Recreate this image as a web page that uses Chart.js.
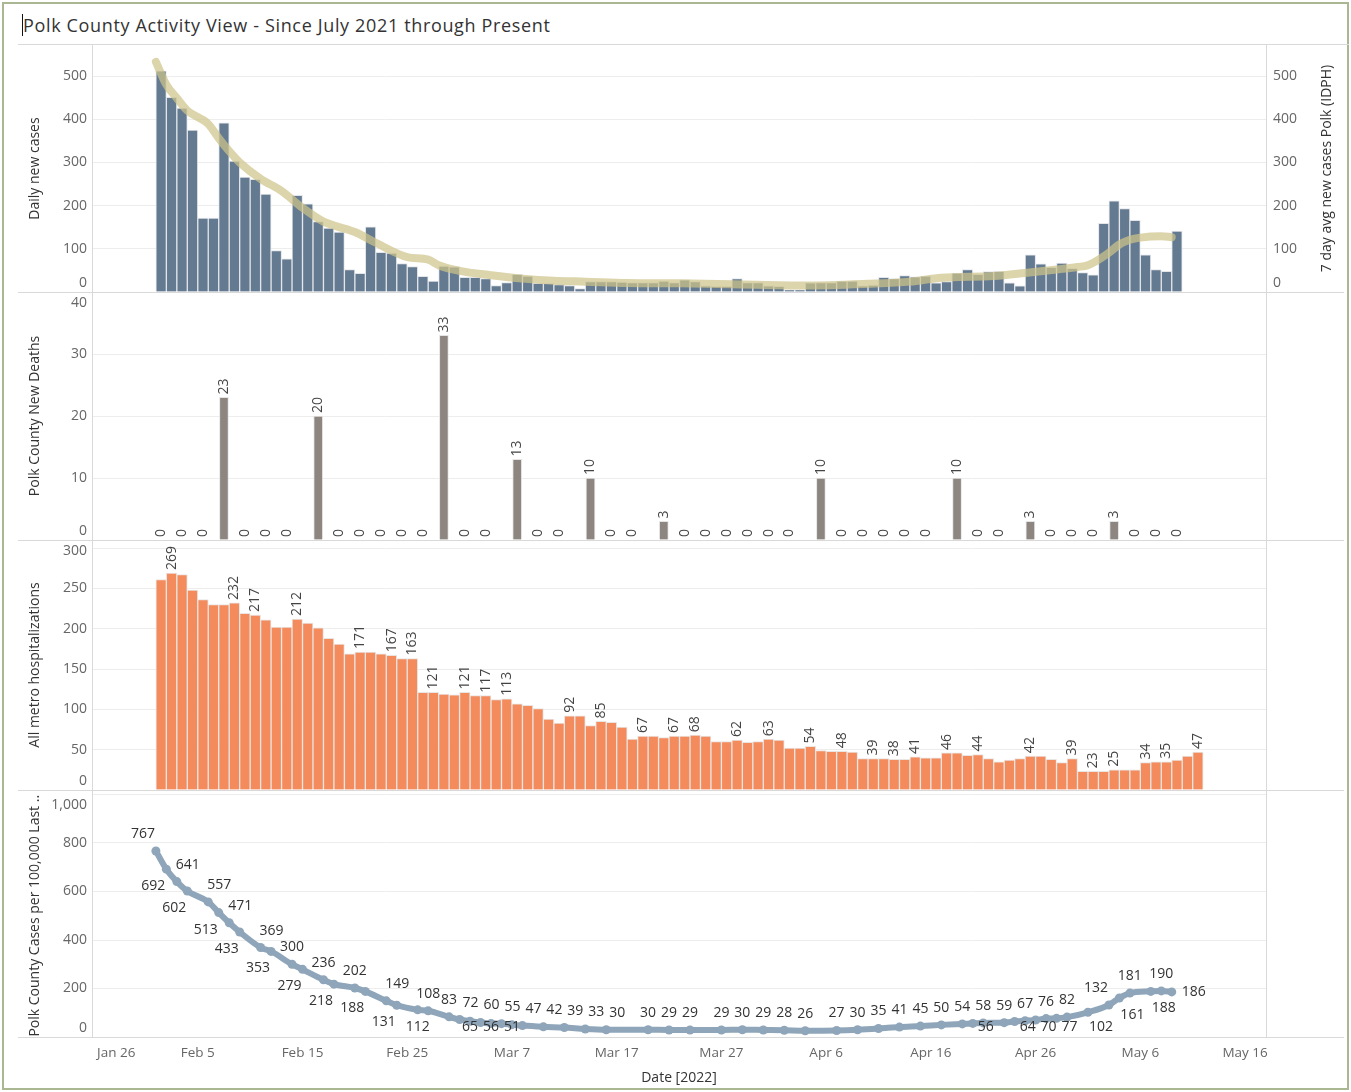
<!DOCTYPE html>
<html>
<head>
<meta charset="utf-8">
<title>Polk County Activity View</title>
<script src="https://cdn.jsdelivr.net/npm/chart.js@4.4.1/dist/chart.umd.min.js"></script>
<style>
html,body{margin:0;padding:0;background:#fff;}
#wrap{position:relative;width:1351px;height:1092px;overflow:hidden;font-family:'Open Sans','Noto Sans',sans-serif;}
.ln{position:absolute;background:#d9d9d9;}
canvas{position:absolute;left:0;}
#title{position:absolute;left:23px;top:13px;font-size:18px;line-height:24px;letter-spacing:0.65px;color:#333;white-space:nowrap;}
</style>
</head>
<body>
<div id="wrap">
  <div style="position:absolute;left:2px;top:2px;width:1343px;height:1084px;border:2px solid #a9b892;"></div>
  <div style="position:absolute;left:22px;top:14px;width:1px;height:22px;background:#111;"></div>
  <div id="title">Polk County Activity View - Since July 2021 through Present</div>
  <div class="ln" style="left:18px;top:44px;width:1331px;height:1px;"></div>
  <canvas id="c1" width="1351" height="247" style="top:45px"></canvas>
  <canvas id="c2" width="1351" height="248" style="top:292px"></canvas>
  <canvas id="c3" width="1351" height="250" style="top:540px"></canvas>
  <canvas id="c4" width="1351" height="302" style="top:790px"></canvas>
  <div class="ln" style="left:92px;top:45px;width:1px;height:992px;"></div>
  <div class="ln" style="left:1266px;top:45px;width:1px;height:992px;"></div>
  <div class="ln" style="left:18px;top:292px;width:1326px;height:1px;"></div>
  <div class="ln" style="left:18px;top:540px;width:1326px;height:1px;"></div>
  <div class="ln" style="left:18px;top:790px;width:1326px;height:1px;"></div>
  <div class="ln" style="left:18px;top:1037px;width:1326px;height:1px;"></div>
</div>
<script>
// ---------------- DATA ----------------
const xTickLabels = ['Jan 26','Feb 5','Feb 15','Feb 25','Mar 7','Mar 17','Mar 27','Apr 6','Apr 16','Apr 26','May 6','May 16'];
const xAxisTitle = 'Date [2022]';

// Panel 1: daily new cases (consecutive days from casesFirstDate)
const casesFirstDate = '2022-02-01';
const dailyCases = [512,451,426,375,171,171,392,303,266,261,
  227,96,77,224,204,163,148,139,52,43,
  151,92,90,66,59,36,25,60,58,34,
  34,31,15,22,41,37,20,20,17,15,
  8,24,24,24,23,22,22,22,25,22,
  28,24,14,13,13,31,22,22,14,13,
  5,5,21,22,22,25,25,14,16,34,
  31,38,35,37,21,24,44,52,41,47,
  48,21,14,86,65,57,67,55,45,40,
  159,211,193,166,86,52,48,141];

// Panel 1: 7 day avg new cases Polk (IDPH)
const avgDates = ['2022-02-01','2022-02-02','2022-02-03','2022-02-04','2022-02-06','2022-02-07','2022-02-08','2022-02-09',
  '2022-02-11','2022-02-13','2022-02-15','2022-02-17','2022-02-18','2022-02-20','2022-02-22','2022-02-25','2022-02-27',
  '2022-02-28','2022-03-02','2022-03-05','2022-03-08','2022-03-11','2022-03-14','2022-03-18','2022-03-23','2022-03-28',
  '2022-04-04','2022-04-10','2022-04-14','2022-04-17','2022-04-22','2022-04-25','2022-04-28','2022-04-30','2022-05-01',
  '2022-05-03','2022-05-04','2022-05-05','2022-05-06','2022-05-08','2022-05-09'];
const avgCases = [533,480,449,420,389,356,326,300,262,234,195,163,154,139,114,81,75,62,49,39,31,26,24,21,20,18,15,19,24,33,37,44,52,58,62,91,110,121,126,129,127];

// Panel 2: Polk County new deaths
const deathDates = ['2022-02-01','2022-02-03','2022-02-05','2022-02-07','2022-02-09','2022-02-11','2022-02-13','2022-02-16',
  '2022-02-18','2022-02-20','2022-02-22','2022-02-24','2022-02-26','2022-02-28','2022-03-02','2022-03-04','2022-03-07',
  '2022-03-09','2022-03-11','2022-03-14','2022-03-16','2022-03-18','2022-03-21','2022-03-23','2022-03-25','2022-03-27',
  '2022-03-29','2022-03-31','2022-04-02','2022-04-05','2022-04-07','2022-04-09','2022-04-11','2022-04-13','2022-04-15',
  '2022-04-18','2022-04-20','2022-04-22','2022-04-25','2022-04-27','2022-04-29','2022-05-01','2022-05-03','2022-05-05',
  '2022-05-07','2022-05-09'];
const deaths = [0,0,0,23,0,0,0,20,0,0,0,0,0,33,0,0,13,0,0,10,0,0,3,0,0,0,0,0,0,10,0,0,0,0,0,10,0,0,3,0,0,0,3,0,0,0];

// Panel 3: all metro hospitalizations (consecutive days from hospFirstDate)
const hospFirstDate = '2022-02-01';
const hospitalizations = [261,269,267,248,236,230,230,232,219,217,
  211,202,202,212,207,201,188,181,169,171,
  171,169,167,163,163,121,121,119,118,121,
  117,117,112,113,107,105,101,88,83,92,
  92,80,85,84,78,63,67,67,65,67,
  67,68,67,60,60,62,59,60,63,62,
  52,52,54,49,48,48,47,39,39,39,
  38,38,41,40,40,46,46,43,44,39,
  35,37,39,42,42,38,34,39,23,23,
  23,25,25,25,34,35,35,37,42,47];
const hospLabelDates = ['2022-02-02','2022-02-08','2022-02-10','2022-02-14','2022-02-20','2022-02-23','2022-02-25','2022-02-27',
  '2022-03-02','2022-03-04','2022-03-06','2022-03-12','2022-03-15','2022-03-19','2022-03-22','2022-03-24','2022-03-28',
  '2022-03-31','2022-04-04','2022-04-07','2022-04-10','2022-04-12','2022-04-14','2022-04-17','2022-04-20','2022-04-25',
  '2022-04-29','2022-05-01','2022-05-03','2022-05-06','2022-05-08','2022-05-11'];

// Panel 4: Polk County cases per 100,000 last 7 days
const rateDates = ['2022-02-01','2022-02-02','2022-02-03','2022-02-04','2022-02-06','2022-02-07','2022-02-08','2022-02-09',
  '2022-02-11','2022-02-12','2022-02-14','2022-02-15','2022-02-17','2022-02-18','2022-02-20','2022-02-21','2022-02-23',
  '2022-02-24','2022-02-26','2022-02-27','2022-03-01','2022-03-02','2022-03-03','2022-03-04','2022-03-05','2022-03-06',
  '2022-03-07','2022-03-08','2022-03-10','2022-03-12','2022-03-14','2022-03-16','2022-03-20','2022-03-22','2022-03-24',
  '2022-03-27','2022-03-29','2022-03-31','2022-04-02','2022-04-04','2022-04-07','2022-04-09','2022-04-11','2022-04-13',
  '2022-04-15','2022-04-17','2022-04-19','2022-04-20','2022-04-21','2022-04-23','2022-04-24','2022-04-25','2022-04-26',
  '2022-04-27','2022-04-28','2022-04-29','2022-05-01','2022-05-03','2022-05-04','2022-05-05','2022-05-07','2022-05-08',
  '2022-05-09'];
const ratePer100k = [767,692,641,602,557,513,471,433,369,353,300,279,236,218,202,188,149,131,112,108,83,72,65,60,56,55,51,47,
  42,39,33,30,30,29,29,29,30,29,28,26,27,30,35,41,45,50,54,56,58,59,64,67,70,76,77,82,102,132,161,181,188,190,186];

// label placement (style) for panel 4 labels
const rateLabelPlacement = ['al','bl','ar','bl','ar','bl','ar','bl','ar','bl','a','bl','a','bl','a','bl','ar','bl','b','a',
  'a','ar','b','ar','b','ar','b','ar','ar','ar','ar','ar','a','a','a','a','a','a','a','a','a','a','a','a','a','a','a','br',
  'a','a','br','a','br','a','br','a','br','al','br','a','br','a','r'];

// ---------------- HELPERS ----------------
const FONT = "'Open Sans','Noto Sans',sans-serif";
Chart.defaults.font.family = FONT;
const D0 = Date.UTC(2022, 0, 26);
const toDay = s => { const p = s.split('-').map(Number); return Math.round((Date.UTC(p[0], p[1]-1, p[2]) - D0) / 864e5); };
const seqDays = (start, n) => Array.from({length: n}, (_, i) => toDay(start) + i);

const X_MIN = -0.1, X_MAX = 112;
const LEFT_W = 92, RIGHT_W = 85;

function xScale(show) {
  const s = {
    type: 'linear', min: X_MIN, max: X_MAX, display: show, offset: false,
    afterBuildTicks: sc => { sc.ticks = xTickLabels.map((_, i) => ({value: i * 10})); },
    ticks: {display: false}, grid: {display: false, offset: false}, border: {display: false}
  };
  if (show) s.afterFit = sc => { sc.height = 55; };
  return s;
}
function yScale(max, step, right) {
  return {
    type: 'linear', min: 0, max: max, position: right ? 'right' : 'left',
    afterFit: s => { s.width = right ? RIGHT_W : LEFT_W; },
    ticks: {display: false, stepSize: step, includeBounds: false},
    grid: {display: !right, drawTicks: false, lineWidth: 1,
      color: c => (c.tick && c.tick.value === 0) ? 'rgba(0,0,0,0)' : '#ededed'},
    border: {display: false}
  };
}
function drawAxis(chart, id, side, labelX, title, titleX) {
  const ctx = chart.ctx, ca = chart.chartArea, s = chart.scales[id];
  ctx.save();
  ctx.font = '14px ' + FONT;
  ctx.fillStyle = '#666';
  ctx.textBaseline = 'middle';
  ctx.textAlign = side === 'left' ? 'right' : 'left';
  s.ticks.forEach(t => {
    let y = s.getPixelForValue(t.value);
    y = Math.min(Math.max(y, ca.top + 11), ca.bottom - 9);
    ctx.fillText(t.value.toLocaleString('en-US'), labelX, y);
  });
  ctx.translate(titleX, (ca.top + ca.bottom) / 2);
  ctx.rotate(-Math.PI / 2);
  ctx.textAlign = 'center';
  ctx.fillStyle = '#333';
  ctx.font = '14px ' + FONT;
  ctx.fillText(title, 0, 0);
  ctx.restore();
}
function drawBarLabels(chart, dsIndex, filterSet) {
  const ctx = chart.ctx, meta = chart.getDatasetMeta(dsIndex), ds = chart.data.datasets[dsIndex];
  ctx.save();
  ctx.font = '14px ' + FONT;
  ctx.fillStyle = '#444';
  ctx.textBaseline = 'middle';
  ctx.textAlign = 'left';
  meta.data.forEach((el, i) => {
    const p = ds.data[i];
    if (filterSet && !filterSet.has(p.day)) return;
    ctx.save();
    ctx.translate(el.x, el.y - 3);
    ctx.rotate(-Math.PI / 2);
    ctx.fillText(String(p.y), 0, 0);
    ctx.restore();
  });
  ctx.restore();
}
const OFFS = {a: [0, -17], b: [0, 17], ar: [11, -17], al: [-13, -17], bl: [-13, 17], br: [13, 17]};
function drawRateLabels(chart) {
  const ctx = chart.ctx, ca = chart.chartArea, meta = chart.getDatasetMeta(0), ds = chart.data.datasets[0];
  ctx.save();
  ctx.font = '14px ' + FONT;
  ctx.fillStyle = '#333';
  ctx.textBaseline = 'middle';
  meta.data.forEach((el, i) => {
    const pl = rateLabelPlacement[i] || 'a';
    const txt = String(ds.data[i].y);
    if (pl === 'r') { ctx.textAlign = 'left'; ctx.fillText(txt, el.x + 10, el.y); return; }
    const o = OFFS[pl];
    let y = Math.min(Math.max(el.y + o[1], ca.top + 10), ca.bottom - 10);
    ctx.textAlign = 'center';
    ctx.fillText(txt, el.x + o[0], y);
  });
  ctx.restore();
}
function drawXAxis(chart) {
  const ctx = chart.ctx, ca = chart.chartArea, s = chart.scales.x;
  ctx.save();
  ctx.font = '13.5px ' + FONT;
  ctx.fillStyle = '#666';
  ctx.textBaseline = 'middle';
  ctx.textAlign = 'left';
  s.ticks.forEach((t, i) => {
    const txt = xTickLabels[i];
    const w = ctx.measureText(txt).width;
    let x = s.getPixelForValue(t.value) - w / 2;
    x = Math.max(x, ca.left + 5);
    ctx.fillText(txt, x, ca.bottom + 16);
  });
  ctx.fillStyle = '#333';
  ctx.textAlign = 'center';
  ctx.font = '14px ' + FONT;
  ctx.fillText(xAxisTitle, (ca.left + ca.right) / 2, ca.bottom + 41);
  ctx.restore();
}
const common = () => ({
  responsive: false, animation: false, devicePixelRatio: 1, events: [],
  layout: {padding: 0},
  plugins: {legend: {display: false}, tooltip: {enabled: false}}
});

// ---------------- PANEL 1 ----------------
const caseDays = seqDays(casesFirstDate, dailyCases.length);
new Chart(document.getElementById('c1'), {
  data: {
    datasets: [
      {type: 'line', order: 0, data: avgDates.map((d, i) => ({x: toDay(d), y: avgCases[i]})),
        borderColor: 'rgba(207,195,138,0.72)', borderWidth: 8, pointRadius: 0, borderCapStyle: 'round',
        borderJoinStyle: 'round', cubicInterpolationMode: 'monotone', yAxisID: 'y'},
      {type: 'bar', order: 1, data: caseDays.map((d, i) => ({x: d + 0.5, y: dailyCases[i], day: d})),
        backgroundColor: '#637a91', borderColor: 'rgba(225,228,232,0.95)', borderWidth: {left: 1, right: 1, top: 1, bottom: 0},
        barPercentage: 1, categoryPercentage: 1, yAxisID: 'y'}
    ]
  },
  options: Object.assign(common(), {
    scales: {x: xScale(false), y: yScale(572, 100, false), y2: yScale(572, 100, true)}
  }),
  plugins: [{id: 'p1', afterDraw(c) {
    drawAxis(c, 'y', 'left', 87, 'Daily new cases', 35);
    drawAxis(c, 'y2', 'right', 1273, '7 day avg new cases Polk (IDPH)', 1327);
  }}]
});

// ---------------- PANEL 2 ----------------
new Chart(document.getElementById('c2'), {
  type: 'bar',
  data: {datasets: [{data: deathDates.map((d, i) => ({x: toDay(d) + 0.5, y: deaths[i], day: toDay(d)})),
    backgroundColor: '#8d8680', borderColor: 'rgba(225,225,225,0.9)', borderWidth: {left: 1, right: 1, top: 1, bottom: 0},
    barThickness: 9}]},
  options: Object.assign(common(), {
    layout: {padding: {right: RIGHT_W}},
    scales: {x: xScale(false), y: yScale(40, 10, false)}
  }),
  plugins: [{id: 'p2',
    afterDatasetsDraw(c) { drawBarLabels(c, 0, null); },
    afterDraw(c) { drawAxis(c, 'y', 'left', 87, 'Polk County New Deaths', 35); }}]
});

// ---------------- PANEL 3 ----------------
const hospDays = seqDays(hospFirstDate, hospitalizations.length);
const hospLabelSet = new Set(hospLabelDates.map(toDay));
new Chart(document.getElementById('c3'), {
  type: 'bar',
  data: {datasets: [{data: hospDays.map((d, i) => ({x: d + 0.5, y: hospitalizations[i], day: d})),
    backgroundColor: '#f38b5d', borderColor: 'rgba(232,228,226,0.95)', borderWidth: {left: 1, right: 1, top: 1, bottom: 0},
    barPercentage: 1, categoryPercentage: 1}]},
  options: Object.assign(common(), {
    layout: {padding: {right: RIGHT_W}},
    scales: {x: xScale(false), y: yScale(310, 50, false)}
  }),
  plugins: [{id: 'p3',
    afterDatasetsDraw(c) { drawBarLabels(c, 0, hospLabelSet); },
    afterDraw(c) { drawAxis(c, 'y', 'left', 87, 'All metro hospitalizations', 35); }}]
});

// ---------------- PANEL 4 ----------------
new Chart(document.getElementById('c4'), {
  type: 'line',
  data: {datasets: [{data: rateDates.map((d, i) => ({x: toDay(d), y: ratePer100k[i]})),
    borderColor: '#8fa5b9', borderWidth: 6, pointRadius: 4.5, pointBackgroundColor: '#8fa5b9', pointBorderWidth: 0,
    cubicInterpolationMode: 'monotone', borderCapStyle: 'round'}]},
  options: Object.assign(common(), {
    layout: {padding: {right: RIGHT_W}},
    scales: {x: xScale(true), y: yScale(1000, 200, false)}
  }),
  plugins: [{id: 'p4',
    afterDatasetsDraw(c) { drawRateLabels(c); },
    afterDraw(c) {
      drawAxis(c, 'y', 'left', 87, 'Polk County Cases per 100,000 Last ..', 35);
      drawXAxis(c);
    }}]
});
</script>
</body>
</html>
